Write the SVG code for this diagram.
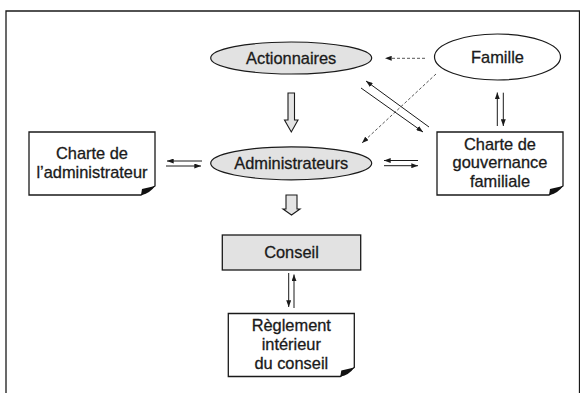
<svg xmlns="http://www.w3.org/2000/svg" width="580" height="393" viewBox="0 0 580 393">
  <style>
    .lbl { font-family: "Liberation Sans", Arial, Helvetica, sans-serif; font-size: 16.4px; fill: #1a1a1a; stroke: #1a1a1a; stroke-width: 0.3; text-anchor: middle; }
    .oval { fill: #e2e2e2; stroke: #1a1a1a; stroke-width: 1.2; }
    .oval-w { fill: #ffffff; stroke: #1a1a1a; stroke-width: 1.2; }
    .box { fill: #e2e2e2; stroke: #1a1a1a; stroke-width: 1.3; }
    .doc { fill: #ffffff; stroke: #1a1a1a; stroke-width: 1.3; }
    .curl { fill: #111111; }
    .ln { fill: none; stroke: #1a1a1a; stroke-width: 1; }
    .dash { fill: none; stroke: #444444; stroke-width: 0.9; stroke-dasharray: 3 2; }
    .fat { fill: #e4e4e4; stroke: #1a1a1a; stroke-width: 1.1; }
    .frame { fill: none; stroke: #1a1a1a; stroke-width: 1.3; }
  </style>
  <defs>
    <marker id="head" viewBox="0 0 8 6" refX="8" refY="3" markerWidth="7" markerHeight="5" markerUnits="userSpaceOnUse" orient="auto">
      <path d="M0,0 L8,3 L0,6 Z" fill="#1a1a1a"/>
    </marker>
    <g id="docShape">
      <path class="doc" d="M0,0 H126 V54 L112,63 H0 Z"/>
      <path class="curl" d="M112,63 Q121,61.5 126,54 L113,57 Z"/>
    </g>
  </defs>

  <rect width="580" height="393" fill="#ffffff"/>
  <path class="frame" d="M6,393 V11 H579.5 V393"/>

  <g id="connectors">
    <!-- broad hollow arrows down the middle -->
    <polygon class="fat" points="288,93 294.5,93 294.5,120 298,120 291.3,132 284.5,120 288,120"/>
    <polygon class="fat" points="286,195 297,195 297,209 300,209 291.5,215 283,209 286,209"/>
    <!-- charter of the director <-> directors -->
    <line class="ln" x1="202" y1="161" x2="167" y2="161" marker-end="url(#head)"/>
    <line class="ln" x1="166" y1="166" x2="201" y2="166" marker-end="url(#head)"/>
    <!-- directors <-> family governance charter -->
    <line class="ln" x1="418" y1="160.5" x2="384" y2="160.5" marker-end="url(#head)"/>
    <line class="ln" x1="384" y1="165.7" x2="418" y2="165.7" marker-end="url(#head)"/>
    <!-- family <-> family governance charter -->
    <line class="ln" x1="497.3" y1="126" x2="497.3" y2="92.5" marker-end="url(#head)"/>
    <line class="ln" x1="503.3" y1="92.7" x2="503.3" y2="126" marker-end="url(#head)"/>
    <!-- board <-> internal rules -->
    <line class="ln" x1="288.7" y1="273" x2="288.7" y2="307" marker-end="url(#head)"/>
    <line class="ln" x1="294" y1="308" x2="294" y2="274.5" marker-end="url(#head)"/>
    <!-- shareholders <-> family governance charter -->
    <line class="ln" x1="361" y1="88" x2="423" y2="132" marker-end="url(#head)"/>
    <line class="ln" x1="429" y1="127" x2="366" y2="81" marker-end="url(#head)"/>
    <!-- dashed influence of the family -->
    <line class="dash" x1="425" y1="58.3" x2="385" y2="58.3" marker-end="url(#head)"/>
    <line class="dash" x1="436" y1="74" x2="362" y2="143" marker-end="url(#head)"/>
  </g>

  <g id="actionnaires">
    <ellipse class="oval" cx="291.2" cy="58" rx="80.5" ry="16"/>
    <text class="lbl" x="291.2" y="63.5">Actionnaires</text>
  </g>

  <g id="famille">
    <ellipse class="oval-w" cx="497.5" cy="57" rx="63" ry="23"/>
    <text class="lbl" x="497.5" y="62.5">Famille</text>
  </g>

  <g id="administrateurs">
    <ellipse class="oval" cx="291.2" cy="163.3" rx="80.5" ry="16.5"/>
    <text class="lbl" x="291.2" y="168.5">Administrateurs</text>
  </g>

  <g id="charte-administrateur">
    <use href="#docShape" transform="translate(29,132)"/>
    <text class="lbl" x="92" y="159.3">Charte de</text>
    <text class="lbl" x="92" y="177.7">l’administrateur</text>
  </g>

  <g id="charte-gouvernance">
    <use href="#docShape" transform="translate(437,132)"/>
    <text class="lbl" x="500" y="150">Charte de</text>
    <text class="lbl" x="500" y="168.3">gouvernance</text>
    <text class="lbl" x="500" y="186.7">familiale</text>
  </g>

  <g id="conseil">
    <rect class="box" x="222.3" y="235" width="138.4" height="35"/>
    <text class="lbl" x="291.5" y="257.5">Conseil</text>
  </g>

  <g id="reglement">
    <use href="#docShape" transform="translate(228.3,313.5)"/>
    <text class="lbl" x="291.3" y="330.5">Règlement</text>
    <text class="lbl" x="291.3" y="349.5">intérieur</text>
    <text class="lbl" x="291.3" y="368.5">du conseil</text>
  </g>
</svg>
